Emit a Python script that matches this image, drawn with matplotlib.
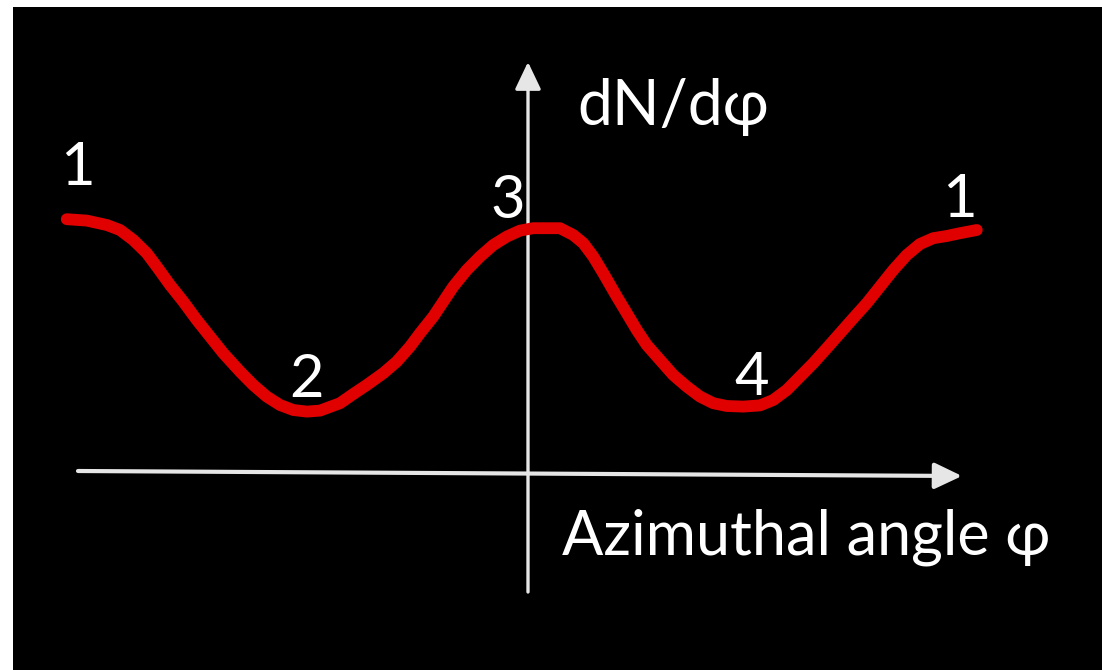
import matplotlib
matplotlib.use("Agg")
import matplotlib.pyplot as plt
from matplotlib.patches import Rectangle, FancyArrowPatch

# azimuthal angle (deg) and dN/dphi (arb. units)
phi = [-184.5, -176.5, -168.5, -163.2, -157.9, -152.5, -148.5, -143.2, -137.9, -132.5,
       -127.2, -121.9, -115.2, -109.9, -104.5, -99.2, -93.9, -88.5, -83.2, -75.2,
       -69.9, -64.5, -57.9, -52.5, -47.2, -43.2, -37.9, -33.9, -29.9, -24.5,
       -19.2, -13.9, -8.5, -3.2, 2.1, 7.5, 12.8, 18.1, 22.1, 26.1,
       30.1, 35.5, 39.5, 43.5, 47.5, 52.8, 58.1, 63.5, 68.8, 74.1,
       79.5, 86.1, 92.8, 98.1, 103.5, 108.8, 114.1, 119.5, 124.8, 130.1,
       135.5, 140.8, 146.1, 151.5, 156.8, 162.1, 167.5, 172.8, 179.5]
dn = [1.254, 1.247, 1.225, 1.200, 1.150, 1.084, 1.017, 0.925, 0.842, 0.750,
      0.667, 0.584, 0.492, 0.425, 0.367, 0.325, 0.300, 0.292, 0.297, 0.334,
      0.380, 0.425, 0.484, 0.542, 0.617, 0.684, 0.767, 0.842, 0.917, 1.000,
      1.067, 1.125, 1.167, 1.197, 1.209, 1.209, 1.209, 1.175, 1.134, 1.067,
      0.984, 0.867, 0.784, 0.700, 0.625, 0.550, 0.475, 0.417, 0.367, 0.334,
      0.320, 0.317, 0.323, 0.350, 0.400, 0.467, 0.534, 0.609, 0.684, 0.759,
      0.834, 0.917, 1.000, 1.075, 1.130, 1.159, 1.170, 1.184, 1.200]

# numbered points along the curve
mark_text = ["1", "2", "3", "4", "1"]
mark_phi = [-180.2, -88.8, -15.2, 89.6, 172.4]
mark_dn = [1.425, 0.365, 1.26, 0.375, 1.265]
mark_ha = ["center", "center", "left", "center", "center"]

fonts = ["Lato", "DejaVu Sans"]

fig = plt.figure(figsize=(11.02, 6.70), dpi=100, facecolor="white")
# black slide background, white margin on the top and left
fig.patches.append(Rectangle((13 / 1102, 0), 1, (670 - 7) / 670,
                             transform=fig.transFigure, facecolor="black",
                             edgecolor="none", zorder=-10))
ax = fig.add_axes([0, 0, 1, 1])
ax.set_zorder(1)
ax.patch.set_visible(False)
ax.set_xlim(-211.2, 229.6)
ax.set_ylim(-1.0, 2.35)
ax.axis("off")

axis_col = "#e6e6e6"
# phi axis
ax.add_patch(FancyArrowPatch((-180, -0.005), (173.6, -0.03), arrowstyle="-|>,head_length=0.42,head_width=0.2",
                             mutation_scale=40, color=axis_col, lw=3.0, shrinkA=0, shrinkB=0))
# dN/dphi axis
ax.add_patch(FancyArrowPatch((0, -0.61), (0, 2.04), arrowstyle="-|>,head_length=0.42,head_width=0.2",
                             mutation_scale=40, color=axis_col, lw=2.4, shrinkA=0, shrinkB=0))

ax.plot(phi, dn, color="#e10000", lw=8.5, solid_capstyle="round", solid_joinstyle="round", zorder=3)

for t, x, y, ha in zip(mark_text, mark_phi, mark_dn, mark_ha):
    ax.text(x, y, t, color="white", fontsize=43, ha=ha, va="baseline", family=fonts, zorder=4)

ax.text(19.6, 1.725, "dN/dφ", color="white", fontsize=45, ha="left", va="baseline", family=fonts)
ax.text(13.6, -0.42, "Azimuthal angle φ", color="white", fontsize=44, ha="left", va="baseline", family=fonts)

fig.savefig("out.png", dpi=100, facecolor=fig.get_facecolor())
